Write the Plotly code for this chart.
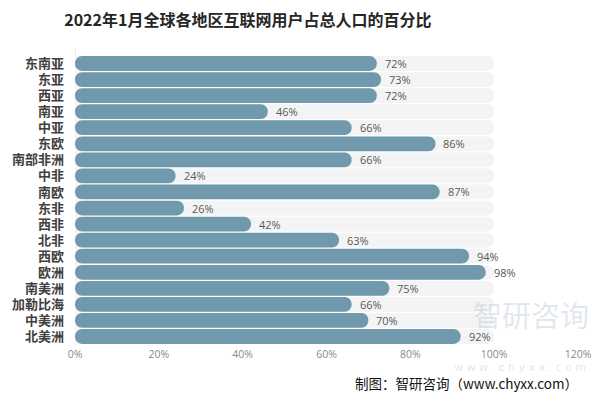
import plotly.graph_objects as go

categories = ["东南亚", "东亚", "西亚", "南亚", "中亚", "东欧", "南部非洲", "中非", "南欧",
              "东非", "西非", "北非", "西欧", "欧洲", "南美洲", "加勒比海", "中美洲", "北美洲"]
values = [72, 73, 72, 46, 66, 86, 66, 24, 87, 26, 42, 63, 94, 98, 75, 66, 70, 92]
track_max = 100
tick_vals = [0, 20, 40, 60, 80, 100, 120]
tick_text = ["0%", "20%", "40%", "60%", "80%", "100%", "120%"]

bar_color = "#7199ad"
track_color = "#f4f4f4"
CJK = "Noto Sans CJK SC"

fig = go.Figure()

# background tracks (rounded at the far end)
fig.add_trace(go.Bar(
    y=categories, x=[track_max] * len(categories), orientation="h",
    marker=dict(color=track_color, cornerradius="50%", line=dict(width=0)),
    hoverinfo="skip", showlegend=False,
))

# value bars drawn from value back to 0 so the rounded end sits at the left
fig.add_trace(go.Bar(
    y=categories, x=[-v for v in values], base=values, orientation="h",
    marker=dict(color=bar_color, cornerradius="50%", line=dict(width=0)),
    hoverinfo="skip", showlegend=False,
))

annotations = [
    dict(x=v, y=c, xref="x", yref="y", text=f"{v}%", showarrow=False,
         xanchor="left", yanchor="middle", xshift=6,
         font=dict(family="Open Sans", size=11, color="#595959"))
    for c, v in zip(categories, values)
]

annotations += [
    dict(text="智研咨询", xref="paper", yref="paper", x=1.025, y=0.03,
         xanchor="right", yanchor="bottom", showarrow=False,
         font=dict(family=CJK, size=29, color="rgba(150,170,190,0.28)")),
    dict(text="w w w . c h y x x . c o m", xref="paper", yref="paper", x=1.02, y=-0.075,
         xanchor="right", yanchor="middle", showarrow=False,
         font=dict(family="DejaVu Sans", size=11, color="rgba(150,170,190,0.3)")),
    dict(text="制图：智研咨询（www.chyxx.com）", xref="paper", yref="paper",
         x=1.004, y=-0.127, xanchor="right", yanchor="middle", showarrow=False,
         font=dict(family=CJK, size=13.5, color="#111111")),
]

# the page body has an 8px default margin, so the figure is offset by 8px
fig.update_layout(
    width=598, height=387,
    margin=dict(l=67, r=28, t=46, b=49),
    paper_bgcolor="white", plot_bgcolor="white",
    barmode="overlay", bargap=0.08,
    title=dict(text="<b>2022年1月全球各地区互联网用户占总人口的百分比</b>",
               x=0.401, xanchor="center", y=0.968, yanchor="middle",
               font=dict(family=CJK, size=16, color="#262626")),
    xaxis=dict(range=[0, 120], tickvals=tick_vals, ticktext=tick_text,
               showgrid=False, zeroline=False, showline=False, automargin=False,
               tickfont=dict(family="Open Sans", size=10.5, color="#8a8a8a"),
               ticks="", fixedrange=True),
    yaxis=dict(categoryorder="array", categoryarray=categories, autorange="reversed",
               tickmode="array", tickvals=categories, ticktext=categories,
               showgrid=False, zeroline=False, showline=False, ticks="",
               ticklabelstandoff=10, automargin=False,
               tickfont=dict(family=CJK, size=13, color="#404040", weight="bold")),
    shapes=[dict(type="line", xref="x", yref="paper", x0=0, x1=0, y0=0, y1=1.02,
                 line=dict(color="#d9d9d9", width=1), layer="below")],
    annotations=annotations,
)

fig.write_html("out.html")
